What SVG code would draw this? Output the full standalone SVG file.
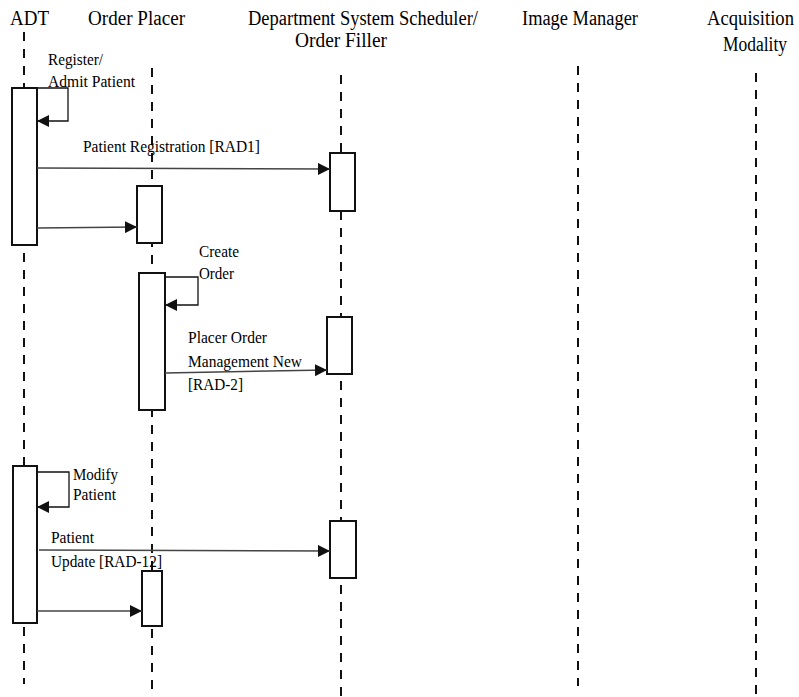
<svg xmlns="http://www.w3.org/2000/svg" width="799" height="697" viewBox="0 0 799 697" font-family="'Liberation Serif', 'Times New Roman', serif">
<style>
text{font-family:"Liberation Serif","Times New Roman",serif;fill:#000}
.title{font-size:20px}
.lbl{font-size:17.5px}
.life{stroke:#111;stroke-width:2;stroke-dasharray:9 8;fill:none}
.act{fill:#fff;stroke:#111;stroke-width:2}
.msg{stroke:#444;stroke-width:1.5;fill:none}
.self{stroke:#111;stroke-width:1.3;fill:none}
</style>
<defs>
<marker id="ah" markerUnits="userSpaceOnUse" markerWidth="13" markerHeight="12" refX="12" refY="6" orient="auto">
<path d="M0,0 L12,6 L0,12 z" fill="#111"/>
</marker>
</defs>
<g id="lifelines">
<line class="life" x1="24" y1="32" x2="24" y2="684"/>
<line class="life" x1="152" y1="68" x2="152" y2="690"/>
<line class="life" x1="341" y1="75" x2="341" y2="697"/>
<line class="life" x1="578" y1="66" x2="578" y2="686"/>
<line class="life" x1="756" y1="73" x2="756" y2="694"/>
</g>
<g id="titles" font-family="'Liberation Serif', serif">
<text class="title" x="10" y="25" textLength="39" lengthAdjust="spacingAndGlyphs">ADT</text>
<text class="title" x="88" y="25" textLength="97" lengthAdjust="spacingAndGlyphs">Order Placer</text>
<text class="title" x="248" y="25" textLength="230" lengthAdjust="spacingAndGlyphs">Department System Scheduler/</text>
<text class="title" x="295" y="47" textLength="92" lengthAdjust="spacingAndGlyphs">Order Filler</text>
<text class="title" x="522" y="25" textLength="116" lengthAdjust="spacingAndGlyphs">Image Manager</text>
<text class="title" x="707" y="25" textLength="87" lengthAdjust="spacingAndGlyphs">Acquisition</text>
<text class="title" x="723" y="51" textLength="64" lengthAdjust="spacingAndGlyphs">Modality</text>
</g>
<g id="activations">
<rect id="adt-act1" class="act" x="12" y="88" width="25" height="157"/>
<rect id="op-act1" class="act" x="137" y="186" width="25" height="57"/>
<rect id="dss-act1" class="act" x="330" y="153" width="25" height="58"/>
<rect id="op-act2" class="act" x="139" y="273" width="26" height="137"/>
<rect id="dss-act2" class="act" x="327" y="317" width="25" height="57"/>
<rect id="adt-act2" class="act" x="13" y="466" width="24" height="157"/>
<rect id="dss-act3" class="act" x="330" y="521" width="26" height="57"/>
<rect id="op-act3" class="act" x="142" y="571" width="20" height="55"/>
</g>
<g id="connectors">
<polyline class="self" points="37,88 68,88 68,121 37,121" marker-end="url(#ah)"/>
<line class="msg" x1="37" y1="168" x2="330" y2="169" marker-end="url(#ah)"/>
<line class="msg" x1="37" y1="228" x2="137" y2="227" marker-end="url(#ah)"/>
<polyline class="self" points="165,277 198,277 198,305 165,305" marker-end="url(#ah)"/>
<line class="msg" x1="165" y1="373" x2="327" y2="370" marker-end="url(#ah)"/>
<polyline class="self" points="37,472 69,472 69,507 37,507" marker-end="url(#ah)"/>
<line class="msg" x1="39" y1="550" x2="330" y2="551" marker-end="url(#ah)"/>
<line class="msg" x1="37" y1="611" x2="142" y2="611" marker-end="url(#ah)"/>
</g>
<g id="labels" font-family="'Liberation Serif', serif">
<text class="lbl" x="48" y="65" textLength="55" lengthAdjust="spacingAndGlyphs">Register/</text>
<text class="lbl" x="48" y="87" textLength="87" lengthAdjust="spacingAndGlyphs">Admit Patient</text>
<text class="lbl" x="83" y="152" textLength="177" lengthAdjust="spacingAndGlyphs">Patient Registration [RAD1]</text>
<text class="lbl" x="199" y="257" textLength="40" lengthAdjust="spacingAndGlyphs">Create</text>
<text class="lbl" x="199" y="279" textLength="35" lengthAdjust="spacingAndGlyphs">Order</text>
<text class="lbl" x="188" y="343" textLength="79" lengthAdjust="spacingAndGlyphs">Placer Order</text>
<text class="lbl" x="188" y="367" textLength="114" lengthAdjust="spacingAndGlyphs">Management New</text>
<text class="lbl" x="188" y="390" textLength="55" lengthAdjust="spacingAndGlyphs">[RAD-2]</text>
<text class="lbl" x="73" y="480" textLength="45" lengthAdjust="spacingAndGlyphs">Modify</text>
<text class="lbl" x="73" y="500" textLength="43" lengthAdjust="spacingAndGlyphs">Patient</text>
<text class="lbl" x="51" y="543" textLength="43" lengthAdjust="spacingAndGlyphs">Patient</text>
<text class="lbl" x="51" y="567" textLength="111" lengthAdjust="spacingAndGlyphs">Update [RAD-12]</text>
</g>
</svg>
